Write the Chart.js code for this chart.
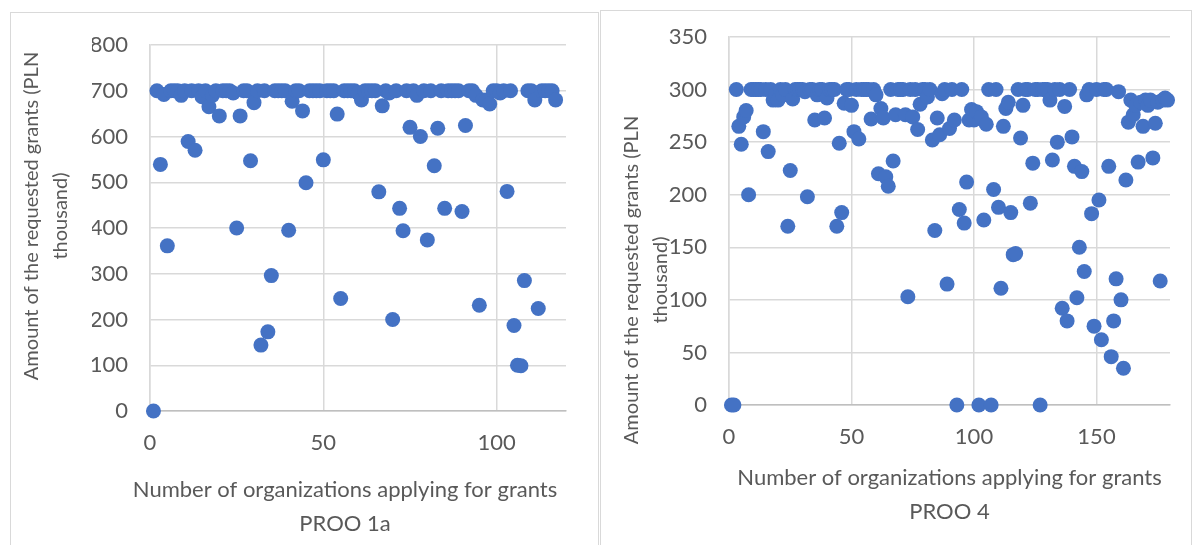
<!DOCTYPE html>
<html>
<head>
<meta charset="utf-8">
<script src="https://cdn.jsdelivr.net/npm/chart.js@4/dist/chart.umd.min.js"></script>
<style>
    body { margin: 0; background: #fff; width: 1203px; height: 545px; overflow: hidden; }
    .box { position: absolute; border: 1px solid #d9d9d9; border-bottom: none; }
    #boxLeft { left: 10px; top: 12px; }
    #boxRight { left: 600px; top: 10px; }
    canvas { display: block; }
</style>
</head>
<body>
<div class="box" id="boxLeft"><canvas id="chartLeft" width="587" height="532"></canvas></div>
<div class="box" id="boxRight"><canvas id="chartRight" width="590" height="534"></canvas></div>
<script>
// requested amounts (PLN thousand), one value per organization, in order
const proo1a = [
    0, 700, 539, 692, 361, 700, 700, 700, 690, 700,
    589, 700, 570, 700, 687, 700, 665, 690, 700, 645,
    700, 700, 700, 695, 400, 645, 700, 700, 547, 674,
    700, 144, 700, 173, 296, 700, 700, 700, 700, 395,
    677, 700, 700, 656, 499, 700, 700, 700, 700, 549,
    700, 700, 700, 649, 246, 700, 700, 700, 700, 695,
    680, 700, 700, 700, 700, 479, 667, 700, 695, 200,
    700, 443, 394, 700, 620, 700, 690, 600, 700, 374,
    700, 536, 618, 700, 443, 700, 700, 700, 700, 436,
    624, 700, 700, 690, 231, 680, 680, 671, 700, 700,
    695, 700, 480, 700, 187, 100, 99, 285, 700, 700,
    680, 224, 700, 700, 700, 700, 680
];

const proo4 = [
    0, 0, 300, 265, 248, 274, 280, 200, 300, 300,
    300, 300, 300, 260, 300, 241, 300, 290, 295, 290,
    300, 295, 300, 170, 223, 291, 300, 300, 300, 300,
    298, 198, 300, 300, 271, 295, 300, 300, 273, 292,
    300, 300, 300, 170, 249, 183, 287, 300, 300, 285,
    260, 300, 253, 300, 300, 300, 300, 272, 300, 295,
    220, 282, 273, 217, 208, 300, 232, 276, 300, 300,
    300, 276, 103, 300, 274, 300, 262, 286, 300, 300,
    293, 300, 252, 166, 273, 257, 296, 300, 115, 263,
    300, 271, 0, 186, 300, 173, 212, 271, 281, 271,
    279, 0, 274, 176, 267, 300, 0, 205, 300, 188,
    111, 265, 282, 288, 183, 143, 144, 300, 254, 285,
    300, 300, 192, 230, 300, 300, 0, 300, 300, 300,
    290, 233, 300, 250, 300, 92, 284, 80, 300, 255,
    227, 102, 150, 222, 127, 295, 300, 182, 75, 300,
    195, 62, 300, 300, 227, 46, 80, 120, 298, 100,
    35, 214, 269, 290, 276, 285, 231, 288, 265, 290,
    285, 290, 235, 268, 288, 118, 290, 292, 290
];

const yTitleLines = ["Amount of the requested grants (PLN", "thousand)"];
const xTitleText = "Number of organizations applying for grants";

Chart.defaults.font.family = "Lato, 'Open Sans', sans-serif";
Chart.defaults.font.size = 22;
Chart.defaults.color = "#595959";

// y axis title drawn rotated, centred where the original puts it
const yTitle = {
    id: "yTitle",
    afterDraw(chart, args, opts) {
        const ctx = chart.ctx;
        ctx.save();
        ctx.translate(opts.x, opts.y);
        ctx.rotate(-Math.PI / 2);
        ctx.font = "20px Lato, 'Open Sans', sans-serif";
        ctx.fillStyle = "#595959";
        ctx.textAlign = "center";
        ctx.textBaseline = "middle";
        opts.lines.forEach((t, i) => ctx.fillText(t, 0, i * 29));
        ctx.restore();
    }
};

const titleFont = { size: 22, weight: "normal", lineHeight: 34 / 22 };

function makeChart(id, values, cfg) {
    const points = values.map((v, i) => ({ x: i + 1, y: v }));
    const titleText = [xTitleText, cfg.program];
    return new Chart(document.getElementById(id), {
        type: "scatter",
        data: {
            datasets: [{
                data: points,
                backgroundColor: "#4472c4",
                borderWidth: 0,
                pointRadius: 7.5,
                pointHoverRadius: 7.5,
                clip: false
            }]
        },
        options: {
            responsive: false,
            animation: false,
            layout: { padding: { top: cfg.top, left: cfg.left, right: 0, bottom: 0 } },
            plugins: {
                legend: { display: false },
                tooltip: { enabled: false },
                // left chart: title centred on the whole chart box
                title: {
                    display: !cfg.titleOnAxis,
                    position: "bottom",
                    text: titleText,
                    color: "#595959",
                    font: titleFont,
                    padding: { top: 0, bottom: cfg.titleBottom }
                },
                yTitle: { x: cfg.yTitleX, y: cfg.yTitleY, lines: yTitleLines }
            },
            scales: {
                x: {
                    type: "linear",
                    min: 0,
                    max: cfg.xMax,
                    afterBuildTicks: s => { s.ticks = s.ticks.filter(t => t.value % 50 === 0); },
                    afterFit: s => { s.height = cfg.xHeight; s.paddingLeft = 0; s.paddingRight = 0; },
                    ticks: { stepSize: 50, padding: 19 },
                    grid: { color: "#d9d9d9", lineWidth: 1.5, drawTicks: false },
                    border: { color: "#bfbfbf", width: 1.5 },
                    // right chart: title centred on the plot
                    title: {
                        display: !!cfg.titleOnAxis,
                        text: titleText,
                        color: "#595959",
                        font: titleFont,
                        padding: { top: 0, bottom: cfg.titleBottom }
                    }
                },
                y: {
                    min: 0,
                    max: cfg.yMax,
                    afterFit: s => { s.width = cfg.yWidth; s.paddingTop = 0; s.paddingBottom = 0; },
                    ticks: { stepSize: cfg.yStep, padding: 22 },
                    grid: { color: "#d9d9d9", lineWidth: 1.5, drawTicks: false },
                    border: { color: "#d9d9d9", width: 1.5 }
                },
                // empty right-hand axis, only keeps the gap on the right
                gap: {
                    position: "right",
                    afterFit: s => { s.width = cfg.rightGap; s.paddingTop = 0; s.paddingBottom = 0; },
                    ticks: { display: false },
                    grid: { display: false },
                    border: { display: false }
                }
            }
        },
        plugins: [yTitle]
    });
}

makeChart("chartLeft", proo1a, {
    program: "PROO 1a", xMax: 120, yMax: 800, yStep: 100,
    top: 32, left: 81, yWidth: 58, rightGap: 32, xHeight: 62, titleBottom: 4,
    yTitleX: 21, yTitleY: 203
});

makeChart("chartRight", proo4, {
    program: "PROO 4", xMax: 180, yMax: 350, yStep: 50, titleOnAxis: true,
    top: 26, left: 0, yWidth: 128, rightGap: 21, xHeight: 140, titleBottom: 16,
    yTitleX: 31, yTitleY: 269
});
</script>
</body>
</html>
